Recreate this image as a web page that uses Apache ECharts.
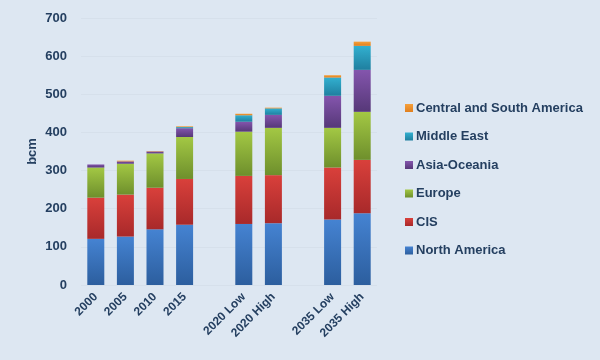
<!DOCTYPE html>
<html>
<head>
<meta charset="utf-8">
<script src="https://cdn.jsdelivr.net/npm/echarts@6/dist/echarts.min.js"></script>
<style>html,body{margin:0;padding:0;background:#dde7f2;}#c{width:600px;height:360px;}</style>
</head>
<body>
<div id="c"></div>
<script>
const categories = ['2000','2005','2010','2015','','2020 Low','2020 High','','2035 Low','2035 High'];
const northAmerica = [121,127,146,158,'-',160,162,'-',172,188];
const cis          = [108,110,109,120,'-',126,126,'-',136,140];
const europe       = [79,81,90,110,'-',116,124,'-',104,126];
const asiaOceania  = [8,6,5,23,'-',26,34,'-',84,110];
const middleEast   = [0,0,0,3,'-',17,17,'-',48,63];
const centralSouthAmerica = [0,2,1,2,'-',4,2,'-',6,11];
const yTicks = [0,100,200,300,400,500,600,700];

const txt = '#243f60';
function grad(top, bottom){
  return new echarts.graphic.LinearGradient(0,0,0,1,[{offset:0,color:top},{offset:1,color:bottom}]);
}
const seriesDefs = [
  ['North America', northAmerica, '#4583d2', '#2c5e9e', '#3b73be'],
  ['CIS', cis, '#d9403b', '#a8292a', '#c8332f'],
  ['Europe', europe, '#a3c844', '#6e8f2c', '#8fb23a'],
  ['Asia-Oceania', asiaOceania, '#8455ad', '#563878', '#6f4896'],
  ['Middle East', middleEast, '#32b0d0', '#1f7f9f', '#2a9cc0'],
  ['Central and South America', centralSouthAmerica, '#f6a03a', '#e07f1e', '#f08a28']
];
const chart = echarts.init(document.getElementById('c'));
chart.setOption({
  backgroundColor: '#dde7f2',
  animation: false,
  grid: {left: 81, right: 223, top: 18, bottom: 75, containLabel: false},
  legend: {
    orient: 'vertical', left: 400, top: 96,
    itemWidth: 8, itemHeight: 8, itemGap: 14.5, icon: 'rect',
    data: seriesDefs.map(s => s[0]).slice().reverse(),
    textStyle: {color: txt, fontWeight: 'bold', fontSize: 13, fontFamily: 'Liberation Sans', padding:[0,0,0,-2], lineHeight: 14}
  },
  xAxis: {
    type: 'category', data: categories,
    axisLine: {show: false}, axisTick: {show: false},
    axisLabel: {rotate: 45, color: txt, fontWeight: 'bold', fontSize: 12, fontFamily: 'Liberation Sans', margin: 10, interval: 0}
  },
  yAxis: {
    type: 'value', min: 0, max: 700, interval: 100,
    name: 'bcm', nameLocation: 'middle', nameGap: 42, nameRotate: 90,
    nameTextStyle: {color: txt, fontWeight: 'bold', fontSize: 13, fontFamily: 'Liberation Sans'},
    axisLine: {show: false}, axisTick: {show: false},
    axisLabel: {color: txt, fontWeight: 'bold', fontSize: 13, fontFamily: 'Liberation Sans', margin: 14},
    splitLine: {lineStyle: {color: '#d6e0eb', width: 1}}
  },
  series: seriesDefs.map(s => ({
    name: s[0], type: 'bar', stack: 'total', data: s[1], barWidth: 17,
    itemStyle: {color: grad(s[2], s[3])},
    color: s[4]
  }))
});
</script>
</body>
</html>
